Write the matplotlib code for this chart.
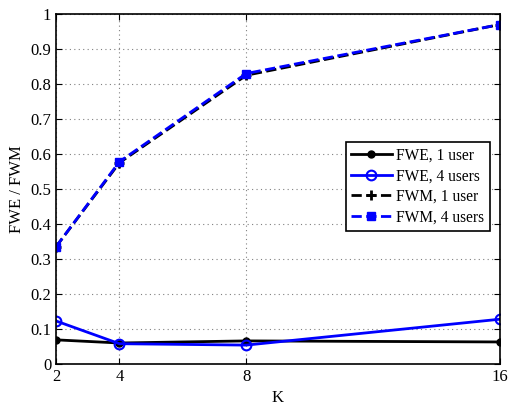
import matplotlib.pyplot as plt

K = [2, 4, 8, 16]
fwe_1user = [0.069, 0.060, 0.066, 0.063]
fwe_4users = [0.123, 0.058, 0.054, 0.128]
fwm_1user = [0.335, 0.575, 0.825, 0.970]
fwm_4users = [0.335, 0.578, 0.830, 0.970]

plt.rcParams['font.family'] = 'Liberation Serif'
plt.rcParams['font.size'] = 12

fig = plt.figure(figsize=(5.09, 4.05), dpi=100)
ax = fig.add_axes([56/509, 41/405, 444/509, 350/405])

ax.plot(K, fwe_1user, '-', color='black', lw=2, marker='o', ms=5, label='FWE, 1 user')
ax.plot(K, fwe_4users, '-', color='blue', lw=2, marker='o', ms=7, mfc='none', mew=1.5, label='FWE, 4 users')
ax.plot(K, fwm_1user, '--', color='black', lw=2, marker='+', ms=7, mew=2, label='FWM, 1 user')
ax.plot(K, fwm_4users, '--', color='blue', lw=2, marker='s', ms=6, mfc='blue', mec='blue', label='FWM, 4 users')

ax.set_xlim(2, 16)
ax.set_ylim(0, 1)
ax.set_xticks(K)
ax.set_yticks([i / 10 for i in range(11)])
ax.set_yticklabels(['0'] + ['0.%d' % i for i in range(1, 10)] + ['1'])
ax.grid(True, linestyle=(0, (1, 3)), color='gray', lw=0.8)
ax.tick_params(direction='in', top=True, right=True, length=4)
for s in ax.spines.values():
    s.set_linewidth(1.2)

ax.set_xlabel('K', labelpad=4)
ax.set_ylabel('FWE / FWM')

leg = ax.legend(loc='upper right', bbox_to_anchor=(0.977, 0.634), fancybox=False,
                edgecolor='black', framealpha=1, handlelength=2.6, borderpad=0.35,
                labelspacing=0.3, handletextpad=0.3, borderaxespad=0, fontsize=11.2)
leg.get_frame().set_linewidth(1.2)

fig.savefig('out.png', dpi=100)
